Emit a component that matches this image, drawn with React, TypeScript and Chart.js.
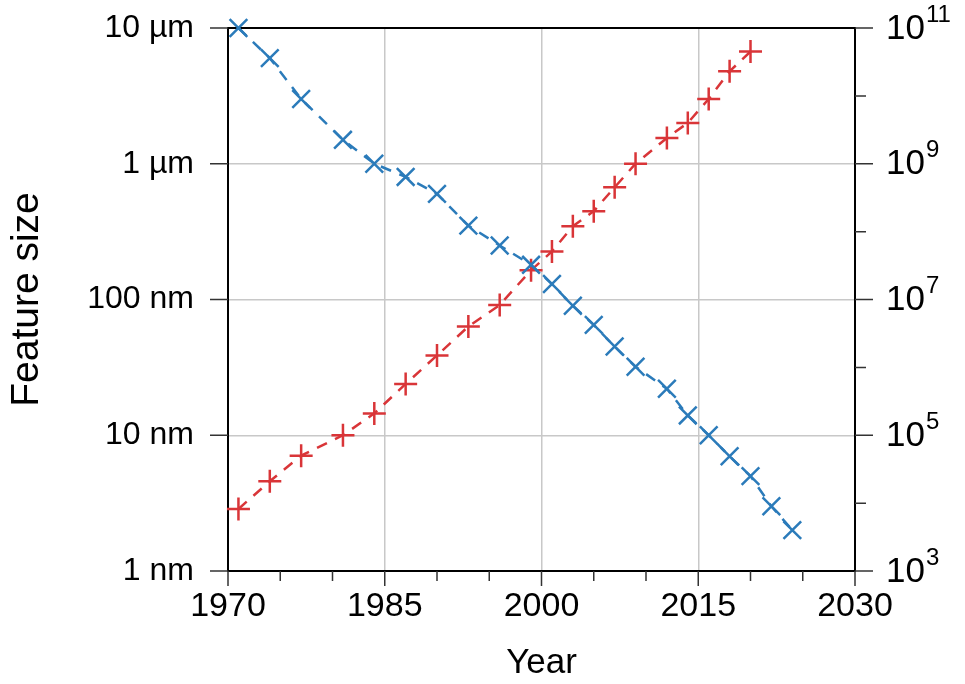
import { useEffect, useRef } from 'react';
import { Chart, registerables } from 'chart.js';

Chart.register(...registerables);

const FONT = '"Liberation Sans", Arial, Helvetica, sans-serif';

const sizeYears = [1971, 1974, 1977, 1981, 1984, 1987, 1990, 1993, 1996, 1999, 2001, 2003, 2005, 2007, 2009, 2012, 2014, 2016, 2018, 2020, 2022, 2024];
const featureSizeNm = [10000, 6000, 3000, 1500, 1000, 800, 600, 350, 250, 180, 130, 90, 65, 45, 32, 22, 14, 10, 7, 5, 3, 2];

const countYears = [1971, 1974, 1977, 1981, 1984, 1987, 1990, 1993, 1996, 1999, 2001, 2003, 2005, 2007, 2009, 2012, 2014, 2016, 2018, 2020];
const transistorCount = [8.2e3, 2.1e4, 5.0e4, 1.0e5, 2.1e5, 5.7e5, 1.5e6, 4.0e6, 8.3e6, 2.7e7, 5.1e7, 1.2e8, 2.0e8, 4.5e8, 1.0e9, 2.4e9, 4.0e9, 9.0e9, 2.3e10, 4.5e10];

const xMajorTicks = [1970, 1985, 2000, 2015, 2030];
const xMinorTicks = [1975, 1980, 1990, 1995, 2005, 2010, 2020, 2025];
const leftTicks = [1, 10, 100, 1000, 10000];
const leftLabels = ['1 nm', '10 nm', '100 nm', '1 µm', '10 µm'];
const rightExponents = [3, 4, 5, 6, 7, 8, 9, 10, 11];
const rightLabelExponents = [3, 5, 7, 9, 11];

const BLUE = '#2b7bba';
const RED = '#d93538';
const GRID = '#c8c8c8';

const zeroPad = (s: any) => {
  s.paddingTop = 0;
  s.paddingBottom = 0;
  s.paddingLeft = 0;
  s.paddingRight = 0;
};

const framePlugin = {
  id: 'frameTicks',
  beforeDatasetsDraw(chart: any) {
    const { ctx, chartArea: a, scales } = chart;
    const x = scales.x;
    const y = scales.y;
    const y2 = scales.y2;
    ctx.save();
    ctx.strokeStyle = '#000';
    ctx.lineWidth = 2;
    ctx.beginPath();
    ctx.moveTo(a.left - 1, a.top);
    ctx.lineTo(a.right + 1, a.top);
    ctx.stroke();

    ctx.strokeStyle = '#333';
    ctx.lineWidth = 1.5;
    ctx.beginPath();
    xMajorTicks.forEach((v) => {
      const px = x.getPixelForValue(v);
      ctx.moveTo(px, a.bottom);
      ctx.lineTo(px, a.bottom + 15);
    });
    xMinorTicks.forEach((v) => {
      const px = x.getPixelForValue(v);
      ctx.moveTo(px, a.bottom);
      ctx.lineTo(px, a.bottom + 10);
    });
    leftTicks.forEach((v) => {
      const py = y.getPixelForValue(v);
      ctx.moveTo(a.left - 18, py);
      ctx.lineTo(a.left, py);
    });
    rightExponents.forEach((e) => {
      const py = y2.getPixelForValue(Math.pow(10, e));
      const len = rightLabelExponents.includes(e) ? 18 : 11;
      ctx.moveTo(a.right, py);
      ctx.lineTo(a.right + len, py);
    });
    ctx.stroke();

    ctx.fillStyle = '#000';
    ctx.textAlign = 'left';
    ctx.textBaseline = 'middle';
    rightLabelExponents.forEach((e) => {
      const py = y2.getPixelForValue(Math.pow(10, e));
      const lx = a.right + 31;
      ctx.font = `35px ${FONT}`;
      ctx.fillText('10', lx, py + 1);
      const w = ctx.measureText('10').width;
      ctx.font = `24px ${FONT}`;
      ctx.fillText(String(e), lx + w + 1, py - 13);
    });
    ctx.restore();
  },
};

export default function App() {
  const ref = useRef<HTMLCanvasElement | null>(null);

  useEffect(() => {
    if (!ref.current) return;
    const chart = new Chart(ref.current, {
      type: 'line',
      data: {
        datasets: [
          {
            label: 'Feature size',
            data: sizeYears.map((yr, i) => ({ x: yr, y: featureSizeNm[i] })),
            yAxisID: 'y',
            borderColor: BLUE,
            borderWidth: 2.5,
            borderDash: [11, 9],
            tension: 0,
            fill: false,
            pointStyle: 'crossRot',
            pointRadius: 12.5,
            pointBorderWidth: 2.5,
            pointBorderColor: BLUE,
            pointBackgroundColor: 'rgba(0,0,0,0)',
            clip: false,
          },
          {
            label: 'Transistor count',
            data: countYears.map((yr, i) => ({ x: yr, y: transistorCount[i] })),
            yAxisID: 'y2',
            borderColor: RED,
            borderWidth: 2.5,
            borderDash: [11, 9],
            tension: 0,
            fill: false,
            pointStyle: 'cross',
            pointRadius: 11.5,
            pointBorderWidth: 2.5,
            pointBorderColor: RED,
            pointBackgroundColor: 'rgba(0,0,0,0)',
            clip: false,
          },
        ],
      },
      options: {
        animation: false,
        responsive: false,
        maintainAspectRatio: false,
        layout: { padding: { top: 28, left: 0, right: 0, bottom: 0 } },
        plugins: {
          legend: { display: false },
          tooltip: { enabled: false },
        },
        events: [],
        scales: {
          x: {
            type: 'linear',
            position: 'bottom',
            min: 1970,
            max: 2030,
            afterBuildTicks: (s: any) => {
              s.ticks = xMajorTicks.map((v) => ({ value: v }));
            },
            afterFit: (s: any) => {
              s.height = 113;
              zeroPad(s);
            },
            grid: {
              drawTicks: false,
              lineWidth: 1.5,
              color: (c: any) =>
                c.tick && (c.tick.value === 1970 || c.tick.value === 2030) ? 'rgba(0,0,0,0)' : GRID,
            },
            border: { display: true, color: '#000', width: 2 },
            ticks: {
              padding: 15,
              color: '#000',
              font: { family: FONT, size: 34 },
              maxRotation: 0,
              autoSkip: false,
              callback: (v: any) => String(v),
            },
            title: {
              display: true,
              text: 'Year',
              color: '#000',
              font: { family: FONT, size: 35 },
              padding: { top: 0, bottom: 0 },
            },
          },
          y: {
            type: 'logarithmic',
            position: 'left',
            min: 1,
            max: 10000,
            afterBuildTicks: (s: any) => {
              s.ticks = leftTicks.map((v) => ({ value: v }));
            },
            afterFit: (s: any) => {
              s.width = 228;
              zeroPad(s);
            },
            grid: {
              drawTicks: false,
              lineWidth: 1.5,
              color: (c: any) =>
                c.tick && (c.tick.value === 1 || c.tick.value === 10000) ? 'rgba(0,0,0,0)' : GRID,
            },
            border: { display: true, color: '#000', width: 2 },
            ticks: {
              padding: 34,
              color: '#000',
              font: { family: FONT, size: 32 },
              autoSkip: false,
              callback: (v: any) => {
                const i = leftTicks.indexOf(Number(v));
                return i >= 0 ? leftLabels[i] : '';
              },
            },
            title: {
              display: true,
              text: 'Feature size',
              color: '#000',
              font: { family: FONT, size: 39 },
              padding: { top: 4, bottom: 0 },
            },
          },
          y2: {
            type: 'logarithmic',
            position: 'right',
            min: 1e3,
            max: 1e11,
            afterFit: (s: any) => {
              s.width = 110;
              zeroPad(s);
            },
            grid: { display: false, drawTicks: false },
            border: { display: true, color: '#000', width: 2 },
            ticks: { display: false },
          },
        },
      },
      plugins: [framePlugin],
    } as any);
    return () => chart.destroy();
  }, []);

  return (
    <div style={{ position: 'fixed', left: 0, top: 0, width: 965, height: 684, background: '#fff' }}>
      <canvas ref={ref} width={965} height={684} style={{ width: 965, height: 684, display: 'block' }} />
    </div>
  );
}
